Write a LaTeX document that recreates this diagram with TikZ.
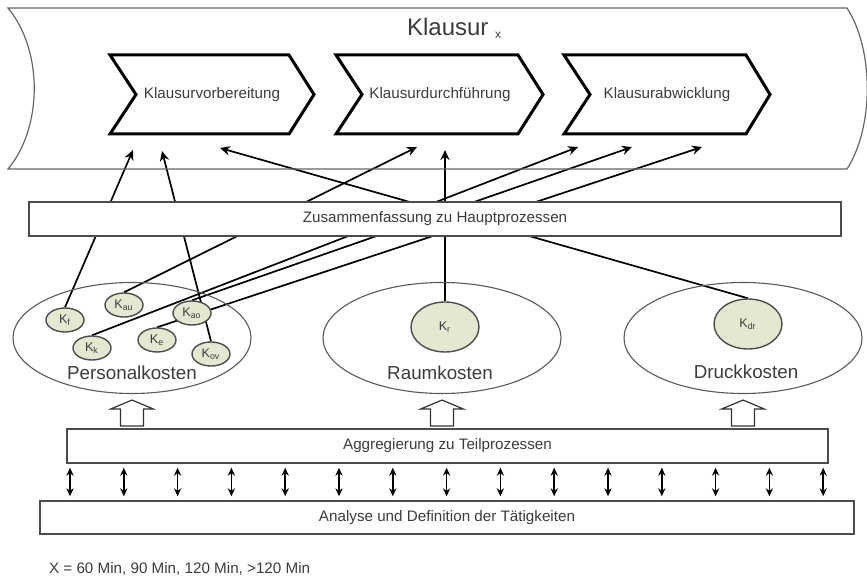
\documentclass[tikz,border=0pt]{standalone}
\usepackage{fontspec}
\setmainfont{Liberation Sans}
\usetikzlibrary{arrows.meta,shapes.geometric}

\pgfdeclarelayer{hinten}
\pgfsetlayers{hinten,main}

\definecolor{kfill}{HTML}{E3E8D2}
\definecolor{schrift}{HTML}{3C3C3C}

\begin{document}
\begin{tikzpicture}[x=0.5pt, y=-0.5pt,
  rahmen/.style={draw=black!60, line width=0.6pt},
  chevron/.style={draw=black, line width=1.5pt, line join=miter},
  klein/.style={font=\fontsize{7.6}{9}\selectfont, text=schrift},
  gross/.style={font=\fontsize{9.4}{11}\selectfont, text=schrift},
  balken/.style={rectangle, draw=black!70, line width=0.7pt, fill=white,
    minimum height=17pt, inner sep=0pt, klein},
  bereich/.style={ellipse, draw=black!65, line width=0.55pt,
    minimum width=119pt, minimum height=55.5pt, inner sep=0pt},
  kostenart/.style={ellipse, draw=black!70, line width=0.7pt, fill=kfill,
    inner sep=0pt, font=\fontsize{6.3}{7}\selectfont, text=schrift},
  kleinkreis/.style={kostenart, minimum width=19pt, minimum height=12pt},
  grosskreis/.style={kostenart, minimum width=34pt, minimum height=25pt},
  verbindung/.style={draw=black, line width=0.85pt, -{Stealth[length=5pt, width=4.6pt]}},
  doppel/.style={draw=black, line width=0.8pt,
    {Stealth[length=4pt, width=3.6pt]}-{Stealth[length=4pt, width=3.6pt]},
    shorten <=2pt, shorten >=2pt},
  block/.style={draw=black!80, line width=0.6pt, fill=white, line join=miter}
]

\useasboundingbox (0,0) rectangle (867,577);

\draw[rahmen] (8,8) -- (847,8) .. controls (874,50) and (874,127) .. (847,169)
  -- (8,169) .. controls (43,127) and (43,50) .. (8,8) -- cycle;
\node[font=\fontsize{12}{14}\selectfont, text=schrift, anchor=base west] (titel) at (400,36)
  {Klausur \raisebox{-1.5pt}{\fontsize{6}{7}\selectfont x}};

\draw[chevron] (110,55) -- (289,55) -- (314,94.5) -- (289,134) -- (110,134) -- (136,94.5) -- cycle;
\node[klein] (vorb) at (212,94.5) {Klausurvorbereitung};

\draw[chevron] (336,55) -- (518,55) -- (543,94.5) -- (518,134) -- (336,134) -- (362,94.5) -- cycle;
\node[klein] (durch) at (440,94.5) {Klausurdurchführung};

\draw[chevron] (564,55) -- (746,55) -- (770,94.5) -- (746,134) -- (564,134) -- (590,94.5) -- cycle;
\node[klein] (abw) at (667,94.5) {Klausurabwicklung};

\node[balken, minimum width=406pt] (haupt) at (435,219) {Zusammenfassung zu Hauptprozessen};

\node[bereich] (pers) at (132,338) {};
\node[bereich] (raum) at (442,338) {};
\node[bereich] (druck) at (743,338) {};

\node[gross] (perstext) at (132,373) {Personalkosten};
\node[gross] (raumtext) at (440,373) {Raumkosten};
\node[gross] (drucktext) at (746,372) {Druckkosten};

\node[kleinkreis] (kf) at (65,320) {K\textsubscript{f}};
\node[kleinkreis] (kau) at (124,305) {K\textsubscript{au}};
\node[kleinkreis] (kao) at (192,313) {K\textsubscript{ao}};
\node[kleinkreis] (kk) at (92,348) {K\textsubscript{k}};
\node[kleinkreis] (ke) at (157,340) {K\textsubscript{e}};
\node[kleinkreis] (kov) at (211,354) {K\textsubscript{ov}};
\node[grosskreis] (kr) at (445,327) {K\textsubscript{r}};
\node[grosskreis] (kdr) at (748,324) {K\textsubscript{dr}};

\coordinate (z1) at (133,150);
\coordinate (z2) at (162,151);
\coordinate (z3) at (220,148);
\coordinate (z4) at (417,147);
\coordinate (z5) at (445,150);
\coordinate (z6) at (578,147);
\coordinate (z7) at (632,147);
\coordinate (z8) at (702,147);

\begin{pgfonlayer}{hinten}
\draw[verbindung] (kf.north) -- (z1);
\draw[verbindung] (kov.north) -- (z2);
\draw[verbindung] (kdr.north) -- (z3);
\draw[verbindung] (kau.north) -- (z4);
\draw[verbindung] (kr.north) -- (z5);
\draw[verbindung] (kk.north) -- (z6);
\draw[verbindung] (kao.north) -- (z7);
\draw[verbindung] (ke.north) -- (z8);
\end{pgfonlayer}

\foreach \b in {pers,raum,druck}
  \draw[block, shift={(\b.south)}] (-11.5,32) -- (-11.5,15) -- (-21.5,15) -- (0,6)
    -- (21.5,15) -- (11.5,15) -- (11.5,32) -- cycle;

\node[balken, minimum width=380.5pt] (teil) at (447.5,446) {Aggregierung zu Teilprozessen};
\node[balken, minimum width=407pt, minimum height=16.5pt] (taet) at (447,517.5)
  {Analyse und Definition der Tätigkeiten};

\foreach \i [evaluate=\i as \xx using 70+53.8*\i] in {0,...,14}
  \draw[doppel] (\xx,0 |- teil.south) -- (\xx,0 |- taet.north);

\node[klein, anchor=west] (legende) at (42,569) {X = 60 Min, 90 Min, 120 Min, >120 Min};

\end{tikzpicture}
\end{document}
